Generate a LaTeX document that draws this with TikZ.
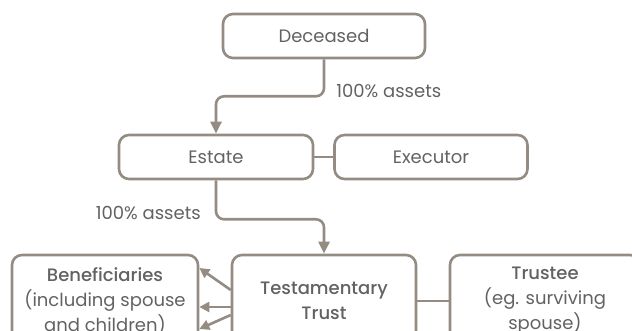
\documentclass[tikz,border=0pt]{standalone}
\usepackage{fontspec}
\setmainfont{Poppins}[BoldFont={Poppins Medium}]
\definecolor{lineGrey}{RGB}{148, 140, 130}
\definecolor{textGrey}{RGB}{98, 98, 98}
\usetikzlibrary{arrows.meta, positioning, calc}

\begin{document}
\begin{tikzpicture}[
  x=1pt, y=-1pt,
  box/.style={draw=lineGrey, line width=2.6pt, rounded corners=10pt, align=center,
    text=textGrey, font=\fontsize{18}{25}\selectfont, inner sep=0pt},
  link/.style={draw=lineGrey, line width=2.6pt},
  arrow/.style={link, -{Triangle[length=12pt, width=11pt]}},
  fan/.style={link, -{Triangle[length=10pt, width=10pt]}},
  lbl/.style={text=textGrey, font=\fontsize{18}{20}\selectfont, inner sep=0pt}
]
  \clip (0,0) rectangle (632,331);

  \node[box, minimum width=202pt, minimum height=44pt] (deceased) at (324, 36) {Deceased};
  \node[box, minimum width=194pt, minimum height=44pt] (estate) at (216, 157) {Estate};
  \node[box, minimum width=193pt, minimum height=44pt] (executor) at (431, 157) {Executor};

  \node[box, minimum width=186pt, minimum height=92pt] (benef) at (105, 301)
    {\textbf{Beneficiaries}\\(including spouse\\and children)};
  \node[box, minimum width=184pt, minimum height=92pt] (trust) at (324, 301)
    {\textbf{Testamentary}\\\textbf{Trust}};
  \node[box, minimum width=190pt, minimum height=92pt] (trustee) at (545, 301)
    {\textbf{Trustee}\\(eg. surviving\\spouse)};

  % flow of assets
  \draw[arrow, rounded corners=8pt] (deceased.south) -- ++(0,37)
    node[lbl, anchor=west, xshift=11pt, yshift=5pt] {100\% assets} -| (estate);
  \draw[arrow, rounded corners=8pt] (estate.south) -- ++(0,39)
    node[lbl, anchor=east, xshift=-14pt, yshift=6pt] {100\% assets} -| (trust);

  \draw[link] (estate) -- (executor);
  \draw[link] (trust) -- (trustee);

  % trust to beneficiaries
  \draw[fan] ($(trust.west)+(0,-11)$) -- ($(benef.east)+(0,-33)$);
  \draw[fan] ($(trust.west)+(0,6)$) -- ($(benef.east)+(0,6)$);
  \draw[fan] ($(trust.west)+(0,14)$) -- ($(benef.east)+(0,28)$);
\end{tikzpicture}
\end{document}
